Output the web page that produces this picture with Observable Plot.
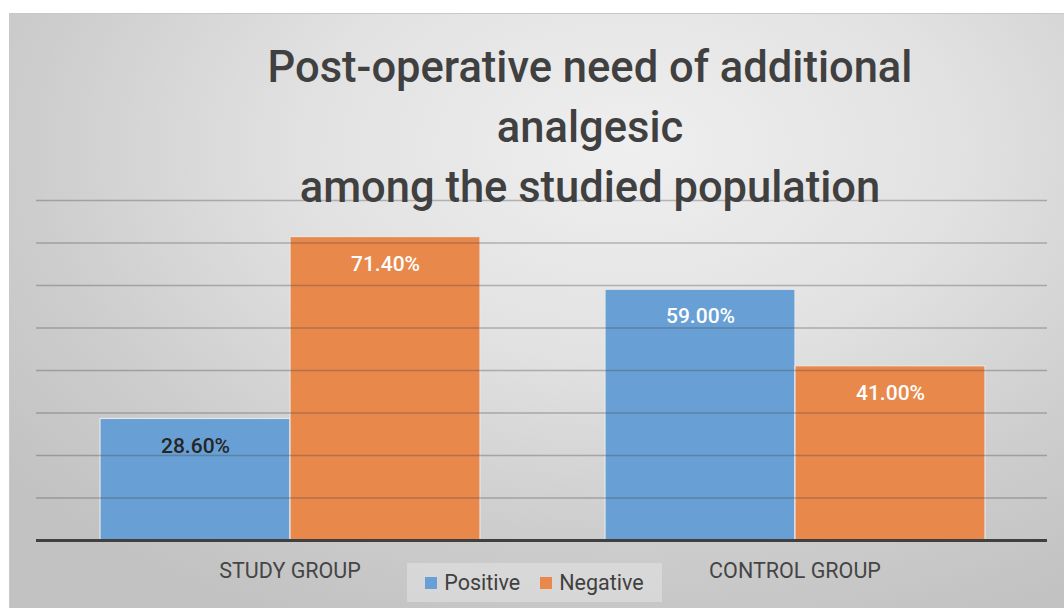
<!DOCTYPE html>
<html>
<head>
<meta charset="utf-8">
<script src="https://cdn.jsdelivr.net/npm/d3@7"></script>
<script src="https://cdn.jsdelivr.net/npm/@observablehq/plot@0.6"></script>
<style>
  html, body { margin: 0; padding: 0; background: #ffffff; width: 1064px; height: 608px; overflow: hidden; font-family: Roboto, "Noto Sans", sans-serif; }
  #frame { position: absolute; left: 9px; top: 13px; width: 1070px; height: 610px; border: 1px solid #c9c9c9;
    background: radial-gradient(ellipse 75% 85% at 58% 22%, #efefef 0%, #e2e2e2 40%, #cdcdcd 75%, #c2c2c2 100%); }
  .layer { position: absolute; left: 0; top: 0; }
  #grid, #labels { pointer-events: none; }
  #title { position: absolute; left: 190px; width: 800px; top: 38px; text-align: center; font-size: 43.5px; line-height: 60px; color: #404040; font-weight: 500; white-space: nowrap; }
  #legend { position: absolute; left: 407px; top: 563px; width: 255px; height: 39px; background: rgba(228,228,228,0.55); display: flex; align-items: center; justify-content: center; gap: 20px; font-size: 21.5px; color: #404040; }
  #legend .item { display: flex; align-items: center; gap: 7px; }
  #legend .sw { width: 12px; height: 12px; display: inline-block; }
</style>
</head>
<body>
<div id="frame"></div>
<div id="chart" class="layer"></div>
<div id="grid" class="layer"></div>
<div id="labels" class="layer"></div>
<div id="title">Post-operative need of additional<br>analgesic<br>among the studied population</div>
<div id="legend"></div>
<script>
const groups = ["STUDY GROUP", "CONTROL GROUP"];
const series = ["Positive", "Negative"];
const positiveValues = [28.6, 59.0];
const negativeValues = [71.4, 41.0];
const gridTicks = [10, 20, 30, 40, 50, 60, 70, 80];

const colors = ["#68a0d5", "#e8884a"];
const labelFill = {"STUDY GROUP|Positive": "#262626"};

const data = [];
groups.forEach((g, i) => {
  data.push({group: g, series: "Positive", value: positiveValues[i]});
  data.push({group: g, series: "Negative", value: negativeValues[i]});
});

const dims = {
  width: 1064,
  height: 608,
  marginLeft: 36,
  marginRight: 17,
  marginTop: 200,
  marginBottom: 68
};
const fxOpts = {domain: groups, paddingInner: 0.2463, paddingOuter: 0.12315, label: null, tickSize: 0, tickPadding: 22};

// Bars (faceted by group)
const bars = Plot.plot({
  ...dims,
  style: {background: "transparent", fontFamily: "Roboto, sans-serif", fontSize: "21.5px", color: "#454545"},
  fx: {...fxOpts, axis: "bottom"},
  x: {type: "band", domain: series, padding: 0, axis: null},
  y: {domain: [0, 80], axis: null},
  color: {domain: series, range: colors},
  marks: [
    Plot.barY(data, {fx: "group", x: "series", y: "value", fill: "series", stroke: "#e6e6e6", strokeWidth: 1.2})
  ]
});
document.getElementById("chart").appendChild(bars);
d3.select(bars).selectAll("[aria-label='fx-axis tick label']")
  .attr("fill", "#454545").attr("font-size", 21.5);
d3.select(bars).selectAll("[aria-label='fx-axis tick label'] text")
  .attr("fill", "#454545").attr("font-size", 21.5);

// Gridlines spanning the full plot width, drawn on top of the bars
const grid = Plot.plot({
  ...dims,
  style: {background: "transparent"},
  x: {domain: [0, 1], axis: null},
  y: {domain: [0, 80], axis: null},
  marks: [
    Plot.ruleY(gridTicks, {stroke: "#4a4a4a", strokeOpacity: 0.35, strokeWidth: 1.6}),
    Plot.ruleY([0], {stroke: "#404040", strokeWidth: 3})
  ]
});
document.getElementById("grid").appendChild(grid);

// Value labels on top of everything
const labels = Plot.plot({
  ...dims,
  style: {background: "transparent", fontFamily: "Roboto, sans-serif"},
  fx: {...fxOpts, axis: null},
  x: {type: "band", domain: series, padding: 0, axis: null},
  y: {domain: [0, 80], axis: null},
  marks: [
    Plot.text(data, {fx: "group", x: "series", y: "value", text: d => d.value.toFixed(2) + "%", dy: 27,
      fill: d => labelFill[d.group + "|" + d.series] || "#ffffff", fontSize: 21, fontWeight: 500})
  ]
});
document.getElementById("labels").appendChild(labels);

const legend = document.getElementById("legend");
series.forEach((s, i) => {
  const item = document.createElement("div");
  item.className = "item";
  const sw = document.createElement("span");
  sw.className = "sw";
  sw.style.background = colors[i];
  item.appendChild(sw);
  item.appendChild(document.createTextNode(s));
  legend.appendChild(item);
});
</script>
</body>
</html>
